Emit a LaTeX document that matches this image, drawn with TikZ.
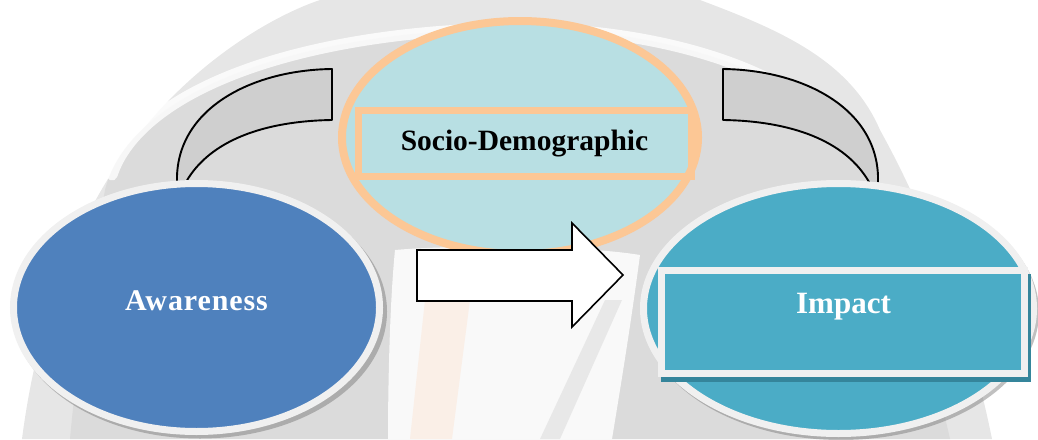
\documentclass[tikz,border=0pt]{standalone}
\usepackage{fontspec}
\setmainfont{Liberation Serif}
\usetikzlibrary{shapes.geometric}

\definecolor{awblue}{HTML}{4F81BD}
\definecolor{imteal}{HTML}{4BACC6}
\definecolor{imshade}{HTML}{35859B}
\definecolor{socfill}{HTML}{B8DFE3}
\definecolor{socrim}{HTML}{FCC795}
\definecolor{rimgray}{HTML}{F0F0F0}
\definecolor{bandgray}{HTML}{CFCFCF}
\definecolor{wmlight}{HTML}{E6E6E6}
\definecolor{wmdark}{HTML}{DBDBDB}
\definecolor{wmwarm}{HTML}{FBEBE0}

\begin{document}
\begin{tikzpicture}[x=1pt,y=-1pt,
  oval/.style={ellipse, inner sep=0pt, outer sep=0pt},
  framebox/.style={rectangle, inner sep=0pt, outer sep=0pt},
  band/.style={fill=bandgray, draw=black, line width=1.9pt, line join=round},
  shade/.style={fill=black!55, opacity=.45},
  title/.style={anchor=base, inner sep=0pt, font=\bfseries\fontsize{30}{30}\selectfont}
]
\useasboundingbox (0,0) rectangle (1038,439);

% faint emblem in the background
\fill[wmlight] (22,439) .. controls (40,300) and (90,170) .. (190,80)
  .. controls (240,35) and (290,10) .. (320,0) -- (700,0)
  .. controls (780,30) and (850,60) .. (880,130)
  .. controls (930,220) and (970,330) .. (992,439) -- cycle;
\fill[wmdark] (70,439) .. controls (80,330) and (95,250) .. (105,190)
  .. controls (130,90) and (300,30) .. (520,28)
  .. controls (700,30) and (840,90) .. (875,185)
  .. controls (900,260) and (930,350) .. (950,439) -- cycle;
\draw[white, line width=11pt, opacity=.8, line cap=round]
  (112,175) .. controls (140,90) and (300,30) .. (520,28)
  .. controls (700,30) and (840,90) .. (872,180);
\fill[white, opacity=.85] (395,250) .. controls (450,245) and (580,245) .. (640,255)
  .. controls (630,330) and (620,390) .. (612,439) -- (388,439)
  .. controls (388,380) and (390,300) .. (395,250) -- cycle;
\fill[wmwarm, opacity=.7] (425,300) .. controls (440,295) and (460,295) .. (470,300)
  -- (452,439) -- (410,439) -- cycle;
\fill[wmdark, opacity=.55] (605,300) -- (622,300) -- (560,439) -- (540,439) -- cycle;

% curved bands linking the outer ovals over the top
\draw[band] (177,182) .. controls (175,110) and (250,70) .. (332,69)
  -- (332,120) .. controls (265,121) and (210,140) .. (186,182);
\draw[band] (878,182) .. controls (880,110) and (805,70) .. (723,69)
  -- (723,120) .. controls (790,121) and (845,140) .. (869,182);

% socio-demographic oval
\node[oval, fill=socfill, draw=socrim, line width=8pt,
      minimum width=356pt, minimum height=233pt] (socio) at (520,137.5) {};
\node[framebox, draw=socrim, line width=7pt,
      minimum width=333pt, minimum height=66pt] (sociobox) at (525,143.5) {};
\node[title, font=\bfseries\fontsize{29.5}{30}\selectfont] (sociotext) at (524.5,150) {Socio-Demographic};

% awareness oval
\fill[shade] (200,311.5) ellipse [x radius=187, y radius=127];
\node[oval, fill=awblue, draw=rimgray, line width=7pt,
      minimum width=366pt, minimum height=248pt] (aware) at (196.5,307.5) {};
\node[title, text=white, font=\bfseries\fontsize{30}{30}\selectfont\addfontfeatures{LetterSpace=3}]
  (awaretext) at (196.5,310) {Awareness};

% impact oval
\fill[shade] (841,312) ellipse [x radius=198, y radius=128];
\node[oval, fill=imteal, draw=rimgray, line width=7pt,
      minimum width=390pt, minimum height=250pt] (impact) at (838.5,308.5) {};
\fill[imshade] (661,274) rectangle (1031,382);
\node[framebox, fill=imteal, draw=rimgray, line width=7pt,
      minimum width=363pt, minimum height=103pt] (impactbox) at (843,322) {};
\node[title, text=white, font=\bfseries\fontsize{31}{31}\selectfont] (impacttext) at (843.5,313) {Impact};

% block arrow from awareness towards impact
\draw[fill=white, draw=black, line width=1.6pt, line join=miter]
  (417,250) -- (572,250) -- (572,223) -- (623,275) -- (572,327) -- (572,301) -- (417,301) -- cycle;
\end{tikzpicture}
\end{document}
